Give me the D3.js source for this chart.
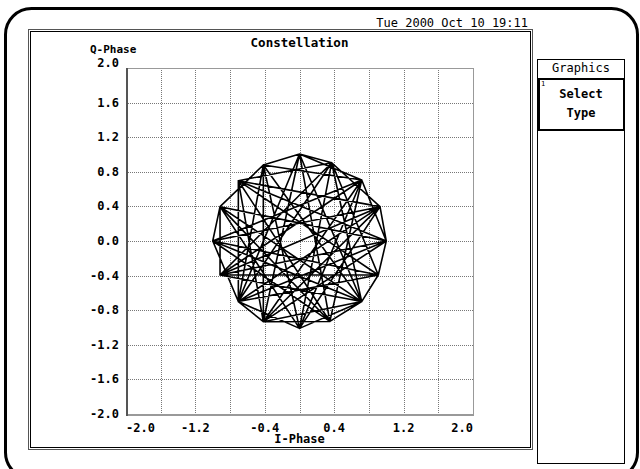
<!DOCTYPE html>
<html>
<head>
<meta charset="utf-8">
<script src="https://cdn.jsdelivr.net/npm/d3@7"></script>
<style>
  body { margin: 0; background: #fff; }
  text { font-family: "DejaVu Sans Mono", "Liberation Mono", monospace; }
</style>
</head>
<body>
<div id="chart"></div>
<script>
// constellation points (I, Q)
let symI = [1.00, 0.928, 0.717, 0.371, 0.0, -0.417, -0.705, -0.916, -1.0, -0.916, -0.705, -0.417, 0.0, 0.35, 0.717, 0.908]
let symQ = [0.0, 0.397, 0.705, 0.905, 1.006, 0.879, 0.697, 0.397, 0.0, -0.393, -0.70, -0.933, -1.01, -0.93, -0.70, -0.393]

// order in which the trace visits the symbols
let trace = [0,7,14,5,11,2,8,13,4,10,1,6,15,9,3,12,7,0,10,3,9,2,12,5,14,7,13,4,11,1,8,15,6,0,9,2,11,5,12,3,10,15,8,14,4,13,6,15,0,2,5,10,12,1,8,7,14,12,3,1,10,6,13,11,4,2,9,7,0,11,6,3,14,9,1,12,3,15,10,4,13,2,9,14,11,0,1,3,4,5,7,8,10,11,13,14,15]

let gridTicks = [-2.0, -1.6, -1.2, -0.8, -0.4, 0.0, 0.4, 0.8, 1.2, 1.6, 2.0]
let xLabels = [-2.0, -1.2, -0.4, 0.4, 1.2, 2.0]
let yLabels = [2.0, 1.6, 1.2, 0.8, 0.4, 0.0, -0.4, -0.8, -1.2, -1.6, -2.0]

let width = 640
let height = 469
let plot = { left: 126, right: 473, top: 68, bottom: 414 }

let x = d3.scaleLinear().domain([-2, 2]).range([plot.left, plot.right])
let y = d3.scaleLinear().domain([-2, 2]).range([plot.bottom, plot.top])

let svg = d3.select('#chart')
    .append('svg')
    .attr('width', width)
    .attr('height', height)

// outer rounded screen frame
svg.append('rect')
    .attr('x', 5.5).attr('y', 8.5)
    .attr('width', 632).attr('height', 470)
    .attr('rx', 26).attr('ry', 26)
    .attr('fill', 'none')
    .attr('stroke', '#000')
    .attr('stroke-width', 3)

svg.append('text')
    .attr('x', 528).attr('y', 27)
    .attr('text-anchor', 'end')
    .attr('font-size', '12px')
    .text('Tue 2000 Oct 10 19:11')

// double frame around graph window
svg.append('rect')
    .attr('x', 28.5).attr('y', 29.5)
    .attr('width', 504).attr('height', 420)
    .attr('fill', 'none').attr('stroke', '#555')
svg.append('rect')
    .attr('x', 30.5).attr('y', 31.5)
    .attr('width', 500).attr('height', 416)
    .attr('fill', 'none').attr('stroke', '#000')

svg.append('text')
    .attr('x', 299.5).attr('y', 47)
    .attr('text-anchor', 'middle')
    .attr('font-size', '12.5px')
    .attr('font-weight', 700)
    .text('Constellation')

svg.append('text')
    .attr('x', 90).attr('y', 53)
    .attr('font-size', '11px')
    .attr('font-weight', 700)
    .text('Q-Phase')

svg.append('text')
    .attr('x', 299.5).attr('y', 443)
    .attr('text-anchor', 'middle')
    .attr('font-size', '12px')
    .attr('font-weight', 700)
    .text('I-Phase')

// dotted grid
let grid = svg.append('g')
grid.selectAll('.gx').data(gridTicks.slice(1, -1)).join('line')
    .attr('x1', d => Math.round(x(d)) + 0.5).attr('x2', d => Math.round(x(d)) + 0.5)
    .attr('y1', plot.top).attr('y2', plot.bottom)
    .attr('stroke', '#777').attr('stroke-dasharray', '1,1')
grid.selectAll('.gy').data(gridTicks.slice(1, -1)).join('line')
    .attr('y1', d => Math.round(y(d)) + 0.5).attr('y2', d => Math.round(y(d)) + 0.5)
    .attr('x1', plot.left).attr('x2', plot.right)
    .attr('stroke', '#777').attr('stroke-dasharray', '1,1')

// plot border
svg.append('line').attr('x1', plot.left).attr('x2', plot.right)
    .attr('y1', plot.top + 0.5).attr('y2', plot.top + 0.5).attr('stroke', '#999')
svg.append('line').attr('x1', plot.right + 0.5).attr('x2', plot.right + 0.5)
    .attr('y1', plot.top).attr('y2', plot.bottom).attr('stroke', '#999')
svg.append('line').attr('x1', plot.left).attr('x2', plot.right + 1)
    .attr('y1', plot.bottom + 1).attr('y2', plot.bottom + 1).attr('stroke', '#999').attr('stroke-width', 2)
svg.append('line').attr('x1', plot.left + 1).attr('x2', plot.left + 1)
    .attr('y1', plot.top).attr('y2', plot.bottom + 2).attr('stroke', '#555').attr('stroke-width', 2)

// tick labels
svg.append('g').selectAll('text').data(yLabels).join('text')
    .attr('x', 119)
    .attr('y', d => y(d) + (d === 2 ? -1 : 4))
    .attr('text-anchor', 'end')
    .attr('font-size', '12px')
    .attr('font-weight', 700)
    .text(d => d.toFixed(1))

svg.append('g').selectAll('text').data(xLabels).join('text')
    .attr('x', d => x(d))
    .attr('y', 432)
    .attr('text-anchor', d => d === -2 ? 'start' : d === 2 ? 'end' : 'middle')
    .attr('font-size', '12px')
    .attr('font-weight', 700)
    .text(d => d.toFixed(1))

// constellation trace
let line = d3.line()
    .x(k => x(symI[k]))
    .y(k => y(symQ[k]))

svg.append('path')
    .datum(trace)
    .attr('d', line)
    .attr('fill', 'none')
    .attr('stroke', '#000')
    .attr('stroke-width', 1.6)
    .attr('stroke-linejoin', 'round')

// softkey panel
svg.append('rect')
    .attr('x', 537.5).attr('y', 59.5)
    .attr('width', 87).attr('height', 404)
    .attr('fill', 'none').attr('stroke', '#000')
svg.append('text')
    .attr('x', 581).attr('y', 72)
    .attr('text-anchor', 'middle')
    .attr('font-size', '12px')
    .text('Graphics')
svg.append('rect')
    .attr('x', 539).attr('y', 79)
    .attr('width', 85).attr('height', 51)
    .attr('fill', 'none').attr('stroke', '#000').attr('stroke-width', 2)
svg.append('text')
    .attr('x', 541).attr('y', 86)
    .attr('font-size', '7px')
    .text('1')
svg.append('text')
    .attr('x', 581).attr('y', 98)
    .attr('text-anchor', 'middle')
    .attr('font-size', '12px')
    .attr('font-weight', 700)
    .text('Select')
svg.append('text')
    .attr('x', 581).attr('y', 117)
    .attr('text-anchor', 'middle')
    .attr('font-size', '12px')
    .attr('font-weight', 700)
    .text('Type')
</script>
</body>
</html>
